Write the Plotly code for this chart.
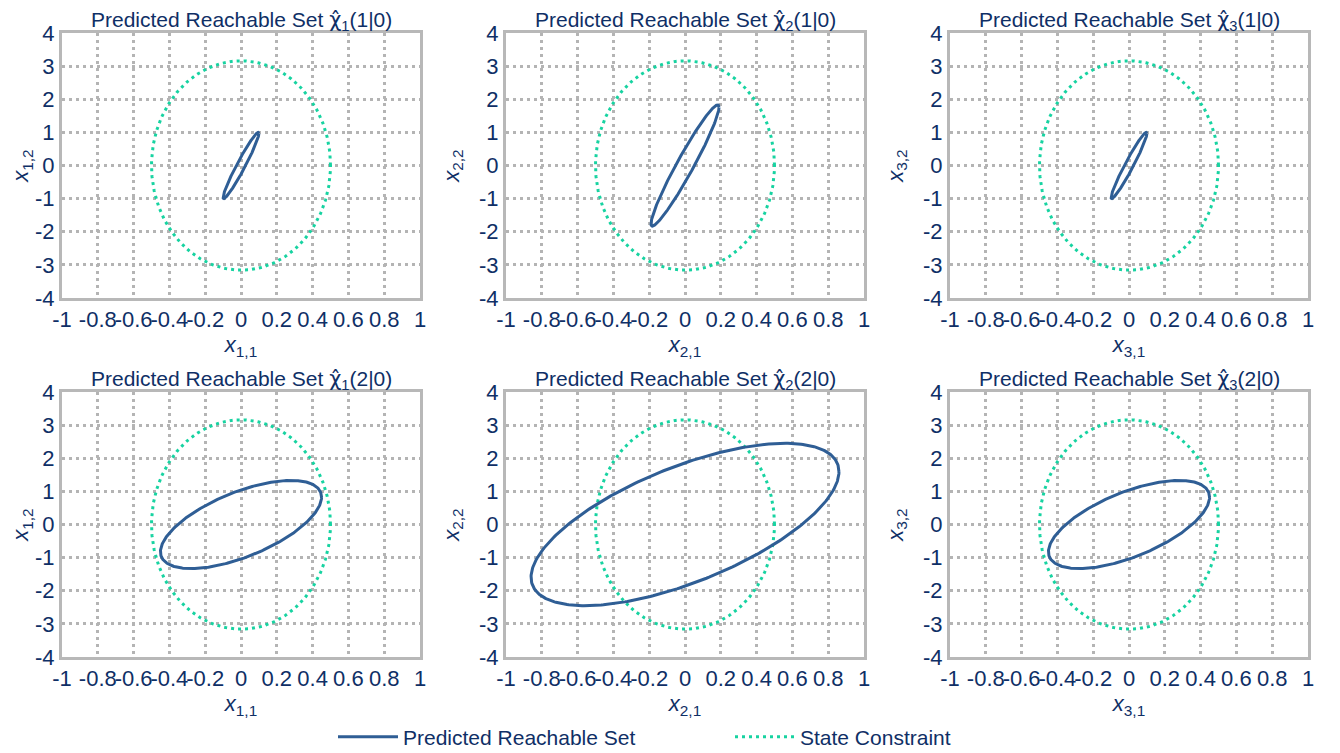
import numpy as np
import plotly.graph_objects as go

# ---------------- data ----------------
HAT = '<span style="font-family:DejaVu Sans">χ̂</span>'
panel_titles = [
    f"Predicted Reachable Set {HAT}<sub>1</sub>(1|0)",
    f"Predicted Reachable Set {HAT}<sub>2</sub>(1|0)",
    f"Predicted Reachable Set {HAT}<sub>3</sub>(1|0)",
    f"Predicted Reachable Set {HAT}<sub>1</sub>(2|0)",
    f"Predicted Reachable Set {HAT}<sub>2</sub>(2|0)",
    f"Predicted Reachable Set {HAT}<sub>3</sub>(2|0)",
]
x_titles = ["1,1", "2,1", "3,1", "1,1", "2,1", "3,1"]
y_titles = ["1,2", "2,2", "3,2", "1,2", "2,2", "3,2"]

# reachable-set ellipses: half-extent along x, half-extent along y, correlation
reach_x_extent = [0.10, 0.19, 0.10, 0.45, 0.86, 0.45]
reach_y_extent = [1.00, 1.83, 1.00, 1.33, 2.45, 1.33]
reach_corr = [0.965, 0.96, 0.965, 0.62, 0.65, 0.62]

# state constraint ellipse (axis aligned)
constraint_x_extent = 0.5
constraint_y_extent = 3.16

x_tickvals = [-1, -0.8, -0.6, -0.4, -0.2, 0, 0.2, 0.4, 0.6, 0.8, 1]
x_ticktext = ["-1", "-0.8", "-0.6", "-0.4", "-0.2", "0", "0.2", "0.4", "0.6", "0.8", "1"]
y_tickvals = [-4, -3, -2, -1, 0, 1, 2, 3, 4]
y_ticktext = ["-4", "-3", "-2", "-1", "0", "1", "2", "3", "4"]

# ---------------- style ----------------
W, H = 1340, 753
OFF = 8  # page body margin in the browser
NAVY = "#0f2f66"
BLUE = "#2f5e95"
TEAL = "#17d3a1"
GRID = "#b4b4b4"
FRAME = "#b8b8b8"
FONT = "Liberation Sans, Arial, sans-serif"
FS = 22

col_px = [(62, 420), (506, 864), (950, 1308)]
row_px = [(33, 298), (392, 657)]

theta = np.linspace(0, 2 * np.pi, 361)


def ellipse(ax, by, rho):
    P = np.array([[ax * ax, rho * ax * by], [rho * ax * by, by * by]])
    L = np.linalg.cholesky(P)
    pts = L @ np.vstack([np.cos(theta), np.sin(theta)])
    return pts[0], pts[1]


fig = go.Figure()
layout = {}
annotations = []

for i in range(6):
    r, c = divmod(i, 3)
    n = i + 1
    xa = "x" if n == 1 else f"x{n}"
    ya = "y" if n == 1 else f"y{n}"
    xkey = "xaxis" if n == 1 else f"xaxis{n}"
    ykey = "yaxis" if n == 1 else f"yaxis{n}"
    x0, x1 = [v - OFF for v in col_px[c]]
    y0, y1 = [v - OFF for v in row_px[r]]
    xdom = [x0 / W, x1 / W]
    ydom = [1 - y1 / H, 1 - y0 / H]

    cx, cy = ellipse(constraint_x_extent, constraint_y_extent, 0.0)
    fig.add_trace(go.Scatter(
        x=cx, y=cy, mode="lines", xaxis=xa, yaxis=ya,
        line=dict(color=TEAL, width=3, dash="3px,4px"),
        name="State Constraint", legendrank=2, showlegend=(i == 0),
        hoverinfo="skip"))
    ex, ey = ellipse(reach_x_extent[i], reach_y_extent[i], reach_corr[i])
    fig.add_trace(go.Scatter(
        x=ex, y=ey, mode="lines", xaxis=xa, yaxis=ya,
        line=dict(color=BLUE, width=3),
        name="Predicted Reachable Set", legendrank=1, showlegend=(i == 0),
        hoverinfo="skip"))

    layout[xkey] = dict(
        domain=xdom, anchor=ya, range=[-1, 1],
        tickvals=x_tickvals, ticktext=x_ticktext, ticks="", tickangle=0,
        showgrid=True, gridcolor=GRID, gridwidth=2.5, griddash="3px,4px",
        zeroline=False, showline=True, mirror=True, linecolor=FRAME, linewidth=3,
        tickfont=dict(family=FONT, size=FS, color=NAVY),
        title=dict(text=f"<i>x</i><sub>{x_titles[i]}</sub>",
                   font=dict(family=FONT, size=FS, color=NAVY), standoff=2),
        automargin=False, fixedrange=True)
    layout[ykey] = dict(
        domain=ydom, anchor=xa, range=[-4, 4],
        tickvals=y_tickvals, ticktext=y_ticktext, ticks="",
        showgrid=True, gridcolor=GRID, gridwidth=2.5, griddash="3px,4px",
        zeroline=False, showline=True, mirror=True, linecolor=FRAME, linewidth=3,
        tickfont=dict(family=FONT, size=FS, color=NAVY),
        title=dict(text=f"<i>x</i><sub>{y_titles[i]}</sub>",
                   font=dict(family=FONT, size=FS, color=NAVY), standoff=14),
        automargin=False, fixedrange=True)

    annotations.append(dict(
        text=panel_titles[i], xref="paper", yref="paper",
        x=(xdom[0] + xdom[1]) / 2, y=ydom[1], xanchor="center", yanchor="bottom",
        yshift=-3, showarrow=False, font=dict(family=FONT, size=21, color=NAVY)))

fig.update_layout(
    width=W, height=H,
    margin=dict(l=0, r=0, t=0, b=0),
    paper_bgcolor="white", plot_bgcolor="white",
    annotations=annotations,
    showlegend=True,
    legend=dict(orientation="h", x=(333 - OFF) / W, xanchor="left",
                y=(753 - (737 - OFF)) / H, yanchor="middle",
                font=dict(family=FONT, size=21, color=NAVY),
                itemwidth=60, entrywidth=322, entrywidthmode="pixels",
                bgcolor="rgba(0,0,0,0)", traceorder="normal"),
    **layout,
)

fig.write_html("out.html")
